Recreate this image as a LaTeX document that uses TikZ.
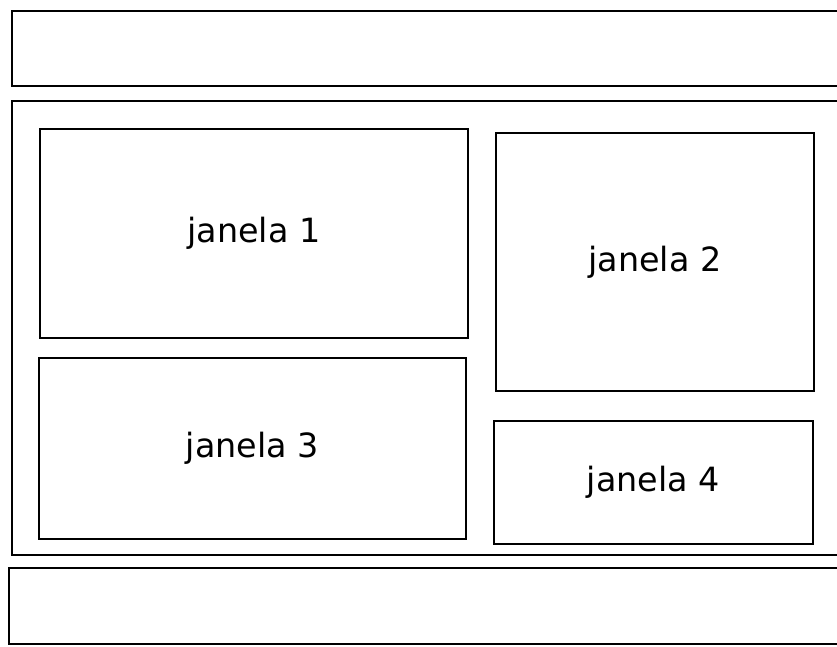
\documentclass[tikz,border=0pt]{standalone}
\usepackage{fontspec}
\setmainfont{DejaVu Sans}
\usepackage{tikz}
\usetikzlibrary{positioning}

\begin{document}
\begin{tikzpicture}[
        panel/.style={rectangle, draw=black, line width=1.1pt, inner sep=0pt},
        janela/.style={panel, font=\fontsize{19}{22}\selectfont}
      ]
        \useasboundingbox (0, 0) rectangle (16.74, -12.94);
        % barras e area principal
        \node[panel, minimum width=17.16cm, minimum height=1.5cm] (barraTopo) at (8.82, -0.97) {};
        \node[panel, minimum width=17.16cm, minimum height=9.08cm] (area) at (8.82, -6.56) {};
        \node[panel, minimum width=17.22cm, minimum height=1.52cm] (barraBase) at (8.79, -12.12) {};
        % janelas
        \node[janela, minimum width=8.56cm, minimum height=4.18cm] (j1) at (5.08, -4.67) {janela 1};
        \node[janela, minimum width=6.36cm, minimum height=5.16cm] (j2) at (13.10, -5.24) {janela 2};
        \node[janela, minimum width=8.54cm, minimum height=3.62cm] (j3) at (5.05, -8.97) {janela 3};
        \node[janela, minimum width=6.38cm, minimum height=2.46cm] (j4) at (13.07, -9.65) {janela 4};
      \end{tikzpicture}
\end{document}
